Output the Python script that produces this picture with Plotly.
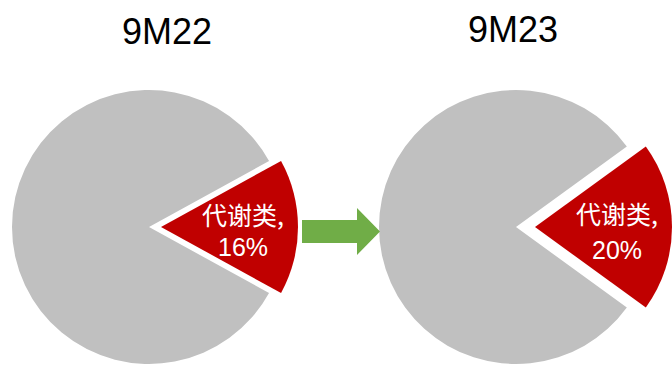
import plotly.graph_objects as go

# ---- data ----
periods = ["9M22", "9M23"]
categories = ["代谢类", "其他"]
metabolic_share = [16, 20]          # % share of 代谢类
other_share = [100 - v for v in metabolic_share]

W, H = 672, 367
GREY = "#C0C0C0"
RED = "#C00000"
CLEAR = "rgba(0,0,0,0)"

# layout geometry (pixels)
R = 137
centers = [(149, 227), (516, 227)]
pulls = [12, 19]
title_pos = [(167, 31), (513, 30)]
label_pos = [(243, 214, 247), (617, 213, 250)]


def dom(cx, cy):
    return dict(x=[(cx - R) / W, (cx + R) / W],
                y=[1 - (cy + R) / H, 1 - (cy - R) / H])


def note(x, y, text, family, size, color):
    fig.add_annotation(x=x / W, y=1 - y / H, xref="paper", yref="paper",
                       xanchor="center", yanchor="middle",
                       text=text, showarrow=False,
                       font=dict(family=family, size=size, color=color))


fig = go.Figure()
for i, p in enumerate(periods):
    vals = [metabolic_share[i], other_share[i]]
    rot = 90 - 360 * metabolic_share[i] / 100 / 2
    cx, cy = centers[i]
    # grey (remaining) part
    fig.add_trace(go.Pie(labels=categories, values=vals, sort=False,
                         rotation=rot, direction="clockwise",
                         marker=dict(colors=[CLEAR, GREY], line=dict(width=0)),
                         textinfo="none", hoverinfo="label+percent",
                         showlegend=False, domain=dom(cx, cy)))
    # pulled-out red part
    fig.add_trace(go.Pie(labels=categories, values=vals, sort=False,
                         rotation=rot, direction="clockwise",
                         marker=dict(colors=[RED, CLEAR], line=dict(width=0)),
                         textinfo="none", hoverinfo="label+percent",
                         showlegend=False, domain=dom(cx + pulls[i], cy)))
    tx, ty = title_pos[i]
    note(tx, ty, p, "Liberation Sans, Arial", 36, "#000000")
    lx, ly1, ly2 = label_pos[i]
    note(lx, ly1, categories[0] + ",", "Noto Sans CJK SC", 25, "#FFFFFF")
    note(lx, ly2, f"{metabolic_share[i]}%", "Liberation Sans, Arial", 25, "#FFFFFF")

# green arrow between the pies
ax = [302, 357, 357, 380, 357, 357, 302]
ay = [220, 220, 208, 231.5, 255, 243, 243]
path = "M " + " L ".join(f"{x / W},{1 - y / H}" for x, y in zip(ax, ay)) + " Z"
fig.add_shape(type="path", path=path, xref="paper", yref="paper",
              fillcolor="#70AD47", line=dict(width=0))

fig.update_layout(width=W, height=H, margin=dict(l=0, r=0, t=0, b=0),
                  paper_bgcolor="white", plot_bgcolor="white")
fig.write_html("out.html")
